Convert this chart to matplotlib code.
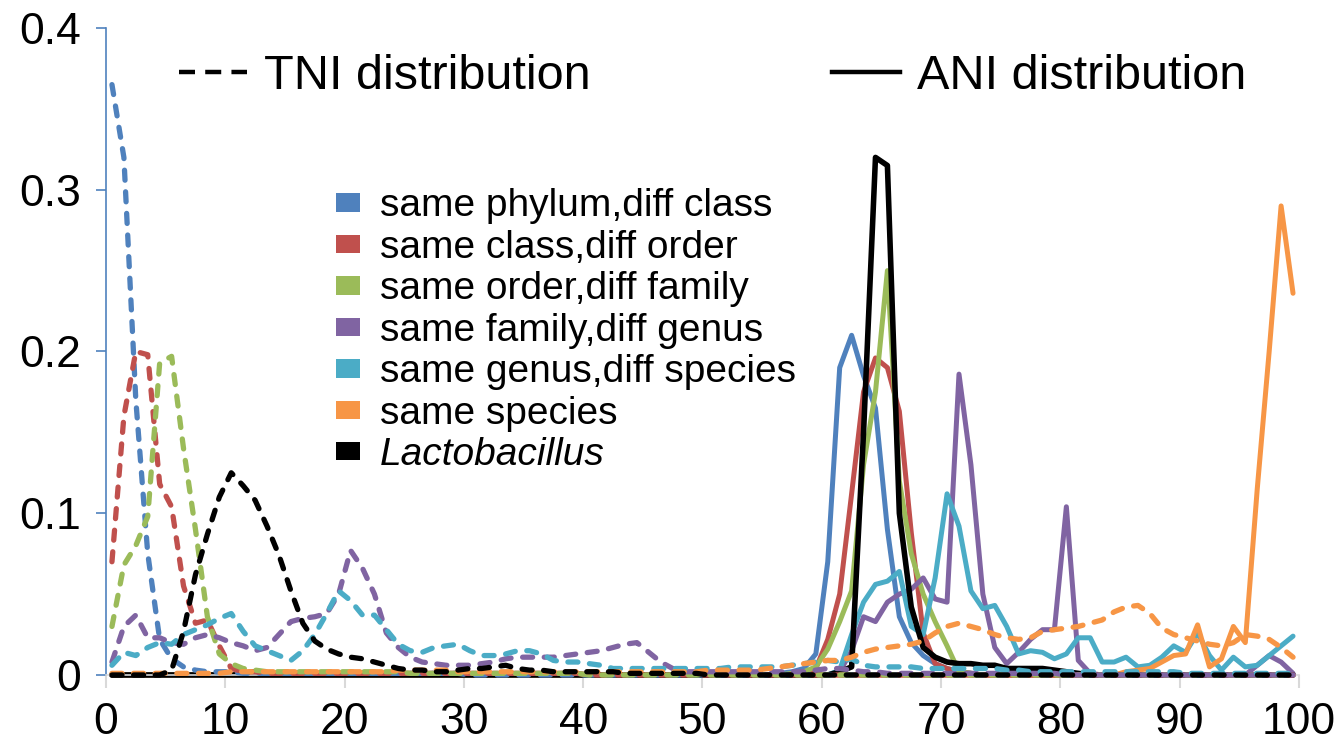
import numpy as np
import matplotlib
matplotlib.use('Agg')
import matplotlib.pyplot as plt
from matplotlib.lines import Line2D
from matplotlib.patches import Patch

plt.rcParams['font.family'] = ['Liberation Sans', 'DejaVu Sans']

#################### DATOS ####################

x = np.arange(100) + 0.5  # centro de cada intervalo [%]

labels = ['same phylum,diff class', 'same class,diff order', 'same order,diff family',
          'same family,diff genus', 'same genus,diff species', 'same species', 'Lactobacillus']
colors = ['#4F81BD', '#C0504D', '#9BBB59', '#8064A2', '#4BACC6', '#F79646', '#000000']

# TNI (lineas discontinuas)
tni_phylum = [0.365, 0.32, 0.17, 0.075, 0.022, 0.010, 0.005, 0.003, 0.002, 0.002,
              0.002, 0.001, 0.001, 0.001, 0.001, 0.001, 0.001, 0.001, 0.001, 0.001,
              0.001, 0.001, 0.001, 0.001, 0.001, 0.001, 0.001, 0.001, 0.001, 0.001,
              0, 0, 0, 0, 0, 0, 0, 0, 0, 0,
              0, 0, 0, 0, 0, 0, 0, 0, 0, 0,
              0, 0, 0, 0, 0, 0, 0, 0, 0, 0,
              0, 0, 0, 0, 0, 0, 0, 0, 0, 0,
              0, 0, 0, 0, 0, 0, 0, 0, 0, 0,
              0, 0, 0, 0, 0, 0, 0, 0, 0, 0,
              0, 0, 0, 0, 0, 0, 0, 0, 0, 0]
tni_class = [0.07, 0.16, 0.20, 0.198, 0.118, 0.104, 0.055, 0.032, 0.034, 0.018,
             0.004, 0.002, 0.002, 0.001, 0.001, 0.001, 0.001, 0.001, 0.001, 0.001,
             0.001, 0.001, 0.001, 0.001, 0.001, 0.001, 0.001, 0.001, 0.001, 0.001,
             0.001, 0.001, 0.001, 0.001, 0.001, 0.001, 0.001, 0.001, 0.001, 0.001,
             0, 0, 0, 0, 0, 0, 0, 0, 0, 0,
             0, 0, 0, 0, 0, 0, 0, 0, 0, 0,
             0, 0, 0, 0, 0, 0, 0, 0, 0, 0,
             0, 0, 0, 0, 0, 0, 0, 0, 0, 0,
             0, 0, 0, 0, 0, 0, 0, 0, 0, 0,
             0, 0, 0, 0, 0, 0, 0, 0, 0, 0]
tni_order = [0.03, 0.068, 0.08, 0.098, 0.193, 0.197, 0.14, 0.09, 0.036, 0.013,
             0.007, 0.004, 0.003, 0.002, 0.002, 0.002, 0.002, 0.002, 0.002, 0.002,
             0.002, 0.002, 0.002, 0.002, 0.002, 0.001, 0.001, 0.001, 0.001, 0.001,
             0.001, 0.001, 0.001, 0.001, 0.001, 0.001, 0.001, 0.001, 0.001, 0.001,
             0, 0, 0, 0, 0, 0, 0, 0, 0, 0,
             0, 0, 0, 0, 0, 0, 0, 0, 0, 0,
             0, 0, 0, 0, 0, 0, 0, 0, 0, 0,
             0, 0, 0, 0, 0, 0, 0, 0, 0, 0,
             0, 0, 0, 0, 0, 0, 0, 0, 0, 0,
             0, 0, 0, 0, 0, 0, 0, 0, 0, 0]
tni_family = [0.008, 0.03, 0.037, 0.023, 0.023, 0.02, 0.019, 0.023, 0.025, 0.023,
              0.02, 0.018, 0.015, 0.017, 0.025, 0.033, 0.035, 0.036, 0.038, 0.05,
              0.077, 0.066, 0.05, 0.026, 0.017, 0.011, 0.008, 0.007, 0.006, 0.006,
              0.006, 0.007, 0.008, 0.01, 0.011, 0.011, 0.011, 0.011, 0.012, 0.013,
              0.014, 0.015, 0.017, 0.019, 0.02, 0.014, 0.008, 0.004, 0.002, 0.002,
              0.002, 0.002, 0.002, 0.002, 0.002, 0.002, 0.002, 0.002, 0.002, 0.003,
              0.004, 0.004, 0.003, 0.002, 0.002, 0.001, 0.001, 0.001, 0.001, 0.001,
              0.001, 0.001, 0.001, 0.001, 0.001, 0.001, 0.001, 0.001, 0.001, 0.001,
              0, 0, 0, 0, 0, 0, 0, 0, 0, 0,
              0, 0, 0, 0, 0, 0, 0, 0, 0, 0]
tni_genus = [0.006, 0.014, 0.012, 0.017, 0.02, 0.019, 0.025, 0.028, 0.031, 0.035,
             0.038, 0.027, 0.018, 0.015, 0.012, 0.009, 0.015, 0.025, 0.038, 0.052,
             0.046, 0.037, 0.037, 0.028, 0.019, 0.015, 0.014, 0.017, 0.018, 0.019,
             0.015, 0.012, 0.012, 0.013, 0.015, 0.015, 0.013, 0.009, 0.008, 0.008,
             0.007, 0.006, 0.004, 0.004, 0.004, 0.004, 0.004, 0.004, 0.004, 0.004,
             0.004, 0.004, 0.005, 0.005, 0.005, 0.005, 0.005, 0.006, 0.007, 0.008,
             0.009, 0.008, 0.01, 0.006, 0.005, 0.005, 0.005, 0.005, 0.004, 0.004,
             0.004, 0.004, 0.004, 0.004, 0.004, 0.003, 0.003, 0.002, 0.002, 0.002,
             0.002, 0.002, 0.002, 0.002, 0.002, 0.002, 0.002, 0.002, 0.002, 0.002,
             0.001, 0.001, 0.001, 0.001, 0.001, 0.001, 0.001, 0.001, 0.001, 0.001]
tni_species = [0.001, 0.001, 0.001, 0.001, 0.001, 0.001, 0.001, 0.001, 0.001, 0.001,
               0.002, 0.002, 0.002, 0.002, 0.002, 0.002, 0.002, 0.002, 0.002, 0.002,
               0.002, 0.002, 0.002, 0.002, 0.003, 0.003, 0.003, 0.003, 0.003, 0.002,
               0.002, 0.002, 0.002, 0.002, 0.002, 0.002, 0.002, 0.002, 0.002, 0.002,
               0.002, 0.002, 0.002, 0.002, 0.002, 0.002, 0.002, 0.002, 0.002, 0.002,
               0.003, 0.003, 0.003, 0.003, 0.003, 0.004, 0.005, 0.006, 0.007, 0.008,
               0.009, 0.009, 0.011, 0.014, 0.016, 0.017, 0.018, 0.019, 0.021, 0.026,
               0.03, 0.032, 0.03, 0.028, 0.025, 0.023, 0.022, 0.023, 0.027, 0.028,
               0.029, 0.03, 0.032, 0.034, 0.039, 0.042, 0.043, 0.038, 0.029, 0.025,
               0.023, 0.021, 0.019, 0.018, 0.02, 0.025, 0.024, 0.022, 0.017, 0.011]
tni_lacto = [0, 0, 0, 0, 0, 0.003, 0.027, 0.062, 0.087, 0.11,
             0.125, 0.117, 0.108, 0.092, 0.074, 0.052, 0.032, 0.021, 0.016, 0.013,
             0.011, 0.01, 0.008, 0.006, 0.004, 0.003, 0.003, 0.002, 0.002, 0.003,
             0.004, 0.004, 0.005, 0.006, 0.004, 0.003, 0.003, 0.002, 0.002, 0.002,
             0.002, 0.002, 0.002, 0.001, 0.001, 0.001, 0.001, 0.001, 0.001, 0.001,
             0, 0, 0, 0, 0, 0, 0, 0, 0, 0,
             0, 0, 0, 0, 0, 0, 0, 0, 0, 0,
             0, 0, 0, 0, 0, 0, 0, 0, 0, 0,
             0, 0, 0, 0, 0, 0, 0, 0, 0, 0,
             0, 0, 0, 0, 0, 0, 0, 0, 0, 0]

# ANI (lineas continuas)
ani_phylum = [0, 0, 0, 0, 0, 0, 0, 0, 0, 0,
              0, 0, 0, 0, 0, 0, 0, 0, 0, 0,
              0, 0, 0, 0, 0, 0, 0, 0, 0, 0,
              0, 0, 0, 0, 0, 0, 0, 0, 0, 0,
              0, 0, 0, 0, 0, 0, 0, 0, 0, 0,
              0, 0, 0, 0, 0, 0, 0.001, 0.002, 0.004, 0.013,
              0.07, 0.19, 0.21, 0.185, 0.165, 0.09, 0.036, 0.02, 0.012, 0.007,
              0.004, 0.002, 0.001, 0, 0, 0, 0, 0, 0, 0,
              0, 0, 0, 0, 0, 0, 0, 0, 0, 0,
              0, 0, 0, 0, 0, 0, 0, 0, 0, 0]
ani_class = [0, 0, 0, 0, 0, 0, 0, 0, 0, 0,
             0, 0, 0, 0, 0, 0, 0, 0, 0, 0,
             0, 0, 0, 0, 0, 0, 0, 0, 0, 0,
             0, 0, 0, 0, 0, 0, 0, 0, 0, 0,
             0, 0, 0, 0, 0, 0, 0, 0, 0, 0,
             0, 0, 0, 0, 0, 0, 0, 0, 0.001, 0.004,
             0.022, 0.05, 0.112, 0.175, 0.196, 0.19, 0.163, 0.088, 0.026, 0.007,
             0.004, 0.002, 0.001, 0, 0, 0, 0, 0, 0, 0,
             0, 0, 0, 0, 0, 0, 0, 0, 0, 0,
             0, 0, 0, 0, 0, 0, 0, 0, 0, 0]
ani_order = [0, 0, 0, 0, 0, 0, 0, 0, 0, 0,
             0, 0, 0, 0, 0, 0, 0, 0, 0, 0,
             0, 0, 0, 0, 0, 0, 0, 0, 0, 0,
             0, 0, 0, 0, 0, 0, 0, 0, 0, 0,
             0, 0, 0, 0, 0, 0, 0, 0, 0, 0,
             0, 0, 0, 0, 0, 0, 0, 0.001, 0.002, 0.005,
             0.016, 0.033, 0.052, 0.13, 0.175, 0.25, 0.12, 0.075, 0.05, 0.033,
             0.018, 0.002, 0.001, 0, 0, 0, 0, 0, 0, 0,
             0, 0, 0, 0, 0, 0, 0, 0, 0, 0,
             0, 0, 0, 0, 0, 0, 0, 0, 0, 0]
ani_family = [0, 0, 0, 0, 0, 0, 0, 0, 0, 0,
              0, 0, 0, 0, 0, 0, 0, 0, 0, 0,
              0, 0, 0, 0, 0, 0, 0, 0, 0, 0,
              0, 0, 0, 0, 0, 0, 0, 0, 0, 0,
              0, 0, 0, 0, 0, 0, 0, 0, 0, 0,
              0, 0, 0, 0, 0, 0, 0, 0, 0, 0,
              0, 0.002, 0.015, 0.036, 0.033, 0.045, 0.05, 0.053, 0.06, 0.047,
              0.045, 0.186, 0.13, 0.05, 0.017, 0.007, 0.014, 0.022, 0.028, 0.028,
              0.104, 0.009, 0.001, 0, 0, 0, 0, 0, 0, 0,
              0, 0, 0, 0, 0, 0, 0.006, 0.012, 0.008, 0.001]
ani_genus = [0, 0, 0, 0, 0, 0, 0, 0, 0, 0,
             0, 0, 0, 0, 0, 0, 0, 0, 0, 0,
             0, 0, 0, 0, 0, 0, 0, 0, 0, 0,
             0, 0, 0, 0, 0, 0, 0, 0, 0, 0,
             0, 0, 0, 0, 0, 0, 0, 0, 0, 0,
             0, 0, 0, 0, 0, 0, 0, 0, 0, 0,
             0, 0.003, 0.025, 0.045, 0.056, 0.058, 0.064, 0.03, 0.025, 0.06,
             0.112, 0.092, 0.052, 0.041, 0.043, 0.03, 0.013, 0.015, 0.014, 0.01,
             0.013, 0.023, 0.023, 0.008, 0.008, 0.011, 0.005, 0.006, 0.011, 0.018,
             0.014, 0.026, 0.012, 0.003, 0.011, 0.005, 0.006, 0.012, 0.018, 0.024]
ani_species = [0, 0, 0, 0, 0, 0, 0, 0, 0, 0,
               0, 0, 0, 0, 0, 0, 0, 0, 0, 0,
               0, 0, 0, 0, 0, 0, 0, 0, 0, 0,
               0, 0, 0, 0, 0, 0, 0, 0, 0, 0,
               0, 0, 0, 0, 0, 0, 0, 0, 0, 0,
               0, 0, 0, 0, 0, 0, 0, 0, 0, 0,
               0, 0, 0, 0, 0, 0, 0, 0, 0, 0,
               0, 0, 0, 0, 0, 0, 0, 0, 0, 0,
               0, 0, 0, 0, 0, 0.002, 0.003, 0.004, 0.008, 0.012,
               0.013, 0.031, 0.005, 0.01, 0.03, 0.02, 0.115, 0.2, 0.29, 0.236]
ani_lacto = [0, 0, 0, 0, 0, 0, 0, 0, 0, 0,
             0, 0, 0, 0, 0, 0, 0, 0, 0, 0,
             0, 0, 0, 0, 0, 0, 0, 0, 0, 0,
             0, 0, 0, 0, 0, 0, 0, 0, 0, 0,
             0, 0, 0, 0, 0, 0, 0, 0, 0, 0,
             0, 0, 0, 0, 0, 0, 0, 0, 0, 0,
             0, 0.002, 0.005, 0.15, 0.32, 0.315, 0.1, 0.042, 0.017, 0.011,
             0.008, 0.007, 0.007, 0.006, 0.006, 0.004, 0.004, 0.004, 0.004, 0.003,
             0.002, 0.001, 0, 0, 0, 0, 0, 0, 0, 0,
             0, 0, 0, 0, 0, 0, 0, 0, 0, 0]

ani = [ani_phylum, ani_class, ani_order, ani_family, ani_genus, ani_species, ani_lacto]
tni = [tni_phylum, tni_class, tni_order, tni_family, tni_genus, tni_species, tni_lacto]

#################### GRAFICA ####################

fig = plt.figure(figsize=(13.4, 7.45), dpi=100)
ax = fig.add_axes([0.0791, 0.094, 0.8903, 0.8684])

# ANI: continuas
for k in range(7):
    lw = 4.0 if k == 6 else 3.6
    ax.plot(x, ani[k], color=colors[k], linewidth=lw, solid_joinstyle='round',
            solid_capstyle='round', clip_on=False, zorder=2 + k * 0.01)

# TNI: discontinuas
for k in range(7):
    ax.plot(x, tni[k], color=colors[k], linewidth=3.8, linestyle=(0, (1.9, 2.2)),
            dash_capstyle='round', dash_joinstyle='round', clip_on=False,
            zorder=3 + k * 0.01)

ax.set_xlim(0, 100)
ax.set_ylim(0, 0.4)
ax.set_xticks(np.arange(0, 101, 10))
ax.set_yticks([0, 0.1, 0.2, 0.3, 0.4])
ax.set_yticklabels(['0', '0.1', '0.2', '0.3', '0.4'])

for s in ['top', 'right']:
    ax.spines[s].set_visible(False)
ax.spines['left'].set_color('#4F81BD')
ax.spines['left'].set_linewidth(1.2)
ax.spines['bottom'].set_color('#D9D9D9')
ax.spines['bottom'].set_linewidth(1.2)

ax.tick_params(axis='y', direction='out', length=7, width=1.2, color='#4F81BD',
               labelsize=32, pad=11)
ax.tick_params(axis='x', direction='out', length=9.5, width=1.5, color='#D9D9D9',
               labelsize=32, pad=10)

# Leyenda de categorias
handles = [Patch(facecolor=c, edgecolor='none') for c in colors]
leg = ax.legend(handles, labels, loc='upper left', bbox_to_anchor=(0.18, 0.776),
                fontsize=28, frameon=False, handlelength=0.62, handleheight=0.35,
                handletextpad=0.5, labelspacing=0.14, borderaxespad=0)
leg.get_texts()[6].set_style('italic')
ax.add_artist(leg)

# Leyenda TNI / ANI
tni_h = Line2D([], [], color='black', linewidth=3.2, linestyle=(0, (3.6, 2.3)),
               dash_capstyle='butt')
ani_h = Line2D([], [], color='black', linewidth=3.2)
leg2 = ax.legend([tni_h, ani_h], ['TNI distribution', 'ANI distribution'],
                 loc='upper left', bbox_to_anchor=(0.045, 0.99), ncol=2,
                 fontsize=35, frameon=False, handlelength=1.4, handletextpad=0.34,
                 columnspacing=4.97, borderaxespad=0)

fig.savefig('out.png', dpi=100)
